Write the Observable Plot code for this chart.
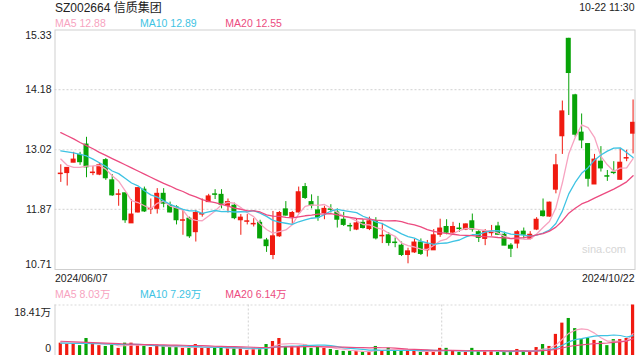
<!DOCTYPE html>
<html><head><meta charset="utf-8">
<script src="https://cdn.jsdelivr.net/npm/d3@7"></script>
<script src="https://cdn.jsdelivr.net/npm/@observablehq/plot@0.6"></script>
<style>
body{margin:0;background:#fff;font-family:"Liberation Sans",Arial,"Noto Sans CJK SC",sans-serif;}
#wrap{position:relative;width:640px;height:360px;overflow:hidden;background:#fff;}
.t{position:absolute;white-space:nowrap;line-height:1;font-size:10.5px;}
.p{position:absolute;left:0;}
</style></head><body><div id="wrap"></div>
<script>
// ---------- data ----------
const stockCode = "SZ002664";
const stockName = "信质集团";
const timeLabel = "10-22 11:30";
const dateLabels = ["2024/06/07", "2024/10/22"];
const priceTicks = [10.71, 11.87, 13.02, 14.18, 15.33];
const volumeTicks = [0, 18.41];
const volumeUnit = "万";
const maNames = ["MA5", "MA10", "MA20"];
const maPeriods = [5, 10, 20];
const maPriceLegend = [12.88, 12.89, 12.55];
const maVolumeLegend = [8.03, 7.29, 6.14];
const watermark = "sina.com";

const open  = [12.55,12.57,12.77,12.92,13.12,12.57,12.54,12.82,12.43,12.15,12.18,11.60,11.81,12.25,11.87,11.88,12.17,11.94,11.91,11.65,
               11.69,11.43,11.77,12.01,12.16,12.15,11.94,11.94,11.66,11.63,11.58,11.61,11.27,10.99,11.35,11.87,11.72,11.81,12.30,12.01,
               11.85,11.80,11.87,11.81,11.67,11.55,11.48,11.61,11.49,11.64,11.35,11.37,11.23,11.17,10.99,11.04,11.23,11.08,11.08,11.38,
               11.53,11.42,11.50,11.48,11.64,11.43,11.30,11.41,11.54,11.38,11.17,11.21,11.44,11.30,11.48,11.83,11.73,12.25,13.28,15.16,
               14.07,13.35,13.13,12.35,12.79,12.51,12.58,12.44,12.85,13.33];
const high  = [12.73,12.67,12.97,12.97,13.26,12.70,12.76,12.85,12.54,12.25,12.18,12.06,12.29,12.30,12.07,12.27,12.27,12.01,11.94,11.85,
               11.72,11.85,12.07,12.16,12.25,12.25,12.07,11.99,11.77,11.77,11.69,11.66,11.31,11.83,11.83,12.02,11.83,12.30,12.37,12.15,
               12.12,11.93,11.96,11.88,11.81,11.60,11.69,11.67,11.72,11.71,11.60,11.42,11.32,11.24,11.12,11.29,11.30,11.27,11.48,11.68,
               11.67,11.62,11.60,11.59,11.78,11.46,11.48,11.56,11.62,11.43,11.21,11.46,11.51,11.44,11.71,12.07,12.01,12.93,13.96,15.17,
               14.09,13.71,13.13,12.93,13.08,12.62,12.79,13.04,13.01,13.98];
const low   = [12.39,12.32,12.77,12.72,12.48,12.52,12.52,12.43,12.12,11.93,11.60,11.60,11.80,11.81,11.77,11.78,11.90,11.80,11.57,11.37,
               11.31,11.24,11.72,12.00,12.06,11.88,11.80,11.67,11.37,11.57,11.53,11.30,11.04,10.90,11.33,11.74,11.57,11.80,12.06,11.88,
               11.64,11.67,11.80,11.51,11.54,11.44,11.46,11.49,11.46,11.28,11.21,11.16,11.13,10.96,10.82,11.02,10.98,10.95,11.08,11.33,
               11.38,11.40,11.43,11.46,11.43,11.23,11.17,11.35,11.37,11.17,10.94,11.11,11.30,11.28,11.46,11.72,11.72,12.17,12.93,13.68,
               13.26,13.04,12.30,12.35,12.59,12.41,12.54,12.43,12.79,12.94];
const close = [12.56,12.67,12.83,12.78,12.68,12.58,12.72,12.47,12.14,12.16,11.66,11.77,12.28,11.83,11.88,12.17,11.98,11.81,11.66,11.66,
               11.35,11.80,11.78,12.12,12.15,11.96,12.01,11.70,11.71,11.64,11.59,11.31,11.16,11.35,11.80,11.75,11.80,12.20,12.09,11.94,
               11.71,11.88,11.86,11.67,11.57,11.54,11.60,11.51,11.64,11.31,11.36,11.22,11.22,10.99,11.06,11.23,11.01,11.19,11.37,11.50,
               11.42,11.53,11.49,11.58,11.48,11.32,11.44,11.44,11.38,11.17,11.11,11.43,11.38,11.38,11.67,11.74,12.00,12.72,13.76,14.50,
               13.31,13.20,12.46,12.83,12.66,12.50,12.57,12.77,12.86,13.54];
// volume in 万 (10k) shares
const volume = [4.5,4.1,4.1,3.6,6.2,4.1,3.6,3.3,4.0,2.6,4.5,4.5,3.8,3.3,2.9,3.8,3.3,2.9,3.2,2.6,
                2.6,4.0,2.6,2.9,2.9,2.6,2.6,2.6,2.6,1.8,2.6,2.6,4.0,5.1,6.2,3.3,3.3,3.3,4.0,2.6,
                3.3,2.6,2.2,1.8,1.5,1.5,1.5,1.1,1.5,3.3,1.8,2.7,1.5,1.8,1.8,1.5,1.1,1.5,1.5,2.6,
                2.6,1.5,1.1,1.1,2.6,1.5,1.5,1.5,1.1,1.5,1.5,2.2,1.5,1.1,2.9,4.0,3.3,7.7,11.8,13.5,
                9.8,5.8,6.2,5.5,5.1,3.6,5.8,5.8,6.2,18.41];
// moving-average values before the window is complete
const priceMaLead = [
  [12.84,12.72,12.68,12.68],
  [13.00,12.98,12.96,12.93,12.90,12.84,12.77,12.70,12.61],
  [13.35,13.29,13.23,13.16,13.10,13.04,12.97,12.91,12.85,12.79,12.73,12.67,12.61,12.55,12.49,12.43,12.37,12.32,12.26]
];
const volumeMaLead = [
  [4.6,4.5,4.4,4.4],
  [4.5,4.5,4.4,4.4,4.4,4.3,4.3,4.2,4.1],
  [5.2,5.1,5.0,4.9,4.8,4.7,4.6,4.5,4.4,4.3,4.2,4.15,4.1,4.0,3.95,3.9,3.85,3.8,3.75]
];

// ---------- style ----------
const RED = "#f01a10", GREEN = "#07a307";
const MA_COLORS = ["#f7a3c0", "#3ec3e3", "#ec4b80"];
const GRID = "#d9d9d9", BORDER = "#cfcfcf", TXT = "#222";

// ---------- derived ----------
const N = close.length;
const idx = d3.range(N);
const rows = idx.map(i => ({i, o: open[i], h: high[i], l: low[i], c: close[i], v: volume[i], up: close[i] >= open[i]}));
function movingAvg(arr, n, lead) {
  return idx.map(i => i < n - 1 ? lead[i] : d3.mean(arr.slice(i - n + 1, i + 1)));
}
const priceMA = maPeriods.map((n, k) => movingAvg(close, n, priceMaLead[k]));
const volMA = maPeriods.map((n, k) => movingAvg(volume, n, volumeMaLead[k]));
const xDomain = [-0.9, N - 0.7];
const thirds = [1, 2].map(k => xDomain[0] + (xDomain[1] - xDomain[0]) * k / 3);
const colorOf = d => d.up ? RED : GREEN;

const wrap = document.getElementById("wrap");
function addText(str, css, color) {
  const d = document.createElement("div");
  d.className = "t";
  d.textContent = str;
  Object.assign(d.style, css);
  if (color) d.style.color = color;
  wrap.appendChild(d);
  return d;
}

// ---------- main price chart ----------
const main = Plot.plot({
  width: 640, height: 255,
  marginTop: 9.5, marginBottom: 6, marginLeft: 54.5, marginRight: 5.5,
  x: {domain: xDomain, axis: null},
  y: {domain: [priceTicks[0], priceTicks[priceTicks.length - 1]], axis: null},
  style: {fontFamily: '"Liberation Sans", Arial, sans-serif', fontSize: "10.5px", background: "transparent"},
  marks: [
    Plot.ruleY(priceTicks.slice(1, -1), {stroke: GRID, strokeDasharray: "2,2", strokeWidth: 1.2}),
    Plot.ruleX(rows, {x: "i", y1: "l", y2: "h", stroke: colorOf, strokeWidth: 1}),
    Plot.rect(rows, {x1: d => d.i - 0.39, x2: d => d.i + 0.39,
      y1: d => Math.min(d.o, d.c), y2: d => Math.max(d.o, d.c),
      fill: colorOf, insetTop: -0.5, insetBottom: -0.5}),
    ...priceMA.map((m, k) => Plot.line(idx, {x: i => i, y: i => m[i], stroke: MA_COLORS[k], strokeWidth: 1.3})),
    Plot.frame({stroke: BORDER}),
    Plot.text(priceTicks.slice(1, -1), {y: d => d, text: d => d.toFixed(2), frameAnchor: "left", textAnchor: "end", dx: -3.5, fill: TXT}),
    Plot.text(priceTicks.slice(-1), {y: d => d, text: d => d.toFixed(2), frameAnchor: "left", textAnchor: "end", dx: -3.5, dy: 6, fill: TXT}),
    Plot.text(priceTicks.slice(0, 1), {y: d => d, text: d => d.toFixed(2), frameAnchor: "left", textAnchor: "end", dx: -3.5, dy: -5, fill: TXT})
  ]
});
main.classList.add("p");
main.style.top = "20px";
wrap.appendChild(main);

// ---------- volume chart ----------
const vol = Plot.plot({
  width: 640, height: 60,
  marginTop: 4.5, marginBottom: 5, marginLeft: 54.5, marginRight: 5.5,
  x: {domain: xDomain, axis: null},
  y: {domain: volumeTicks, axis: null},
  style: {fontFamily: '"Liberation Sans", Arial, "Noto Sans CJK SC", sans-serif', fontSize: "10.5px", background: "transparent"},
  marks: [
    Plot.ruleY(volumeTicks.slice(1), {stroke: GRID, strokeDasharray: "2,2", strokeWidth: 1.2}),
    Plot.ruleX(thirds, {stroke: GRID, strokeDasharray: "2,2", strokeWidth: 1.2}),
    Plot.ruleX(xDomain.slice(0, 1), {stroke: BORDER}),
    Plot.rect(rows, {x1: d => d.i - 0.25, x2: d => d.i + 0.25, y1: 0, y2: "v", fill: colorOf}),
    ...volMA.map((m, k) => Plot.line(idx, {x: i => i, y: i => m[i], stroke: MA_COLORS[k], strokeWidth: 1.2})),
    Plot.text(volumeTicks.slice(1), {y: d => d, text: d => d.toFixed(2) + volumeUnit, frameAnchor: "left", textAnchor: "end", dx: -4, dy: 7.5, fill: TXT}),
    Plot.text(volumeTicks.slice(0, 1), {y: d => d, text: d => String(d), frameAnchor: "left", textAnchor: "end", dx: -4, dy: -7, fill: TXT})
  ]
});
vol.classList.add("p");
vol.style.top = "300px";
wrap.appendChild(vol);

// ---------- texts ----------
addText(stockCode + " " + stockName, {left: "55px", top: "1.5px", fontSize: "12px"}, TXT);
const tl = addText(timeLabel, {right: "5.5px", top: "2.2px"}, TXT);
const legendX = [55, 140, 225.3];
maNames.forEach((n, k) => addText(n + " " + maPriceLegend[k].toFixed(2), {left: legendX[k] + "px", top: "18.4px"}, MA_COLORS[k]));
maNames.forEach((n, k) => addText(n + " " + maVolumeLegend[k].toFixed(2) + volumeUnit, {left: legendX[k] + "px", top: "289.2px"}, MA_COLORS[k]));
addText(dateLabels[0], {left: "55px", top: "272.8px"}, TXT);
addText(dateLabels[1], {right: "5.5px", top: "272.8px"}, TXT);
addText(watermark, {left: "582px", top: "243.5px", fontSize: "11px"}, "#d6d6d6");
</script>
</body></html>
